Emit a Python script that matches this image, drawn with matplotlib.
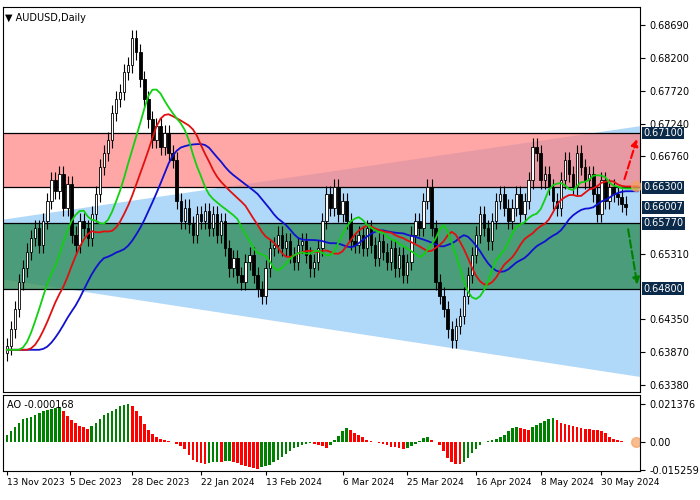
import numpy as np
import pandas as pd
import matplotlib
matplotlib.use("Agg")
import matplotlib.pyplot as plt
from matplotlib.patches import Polygon

closes = [0.6395,0.6420,0.6450,0.6490,0.6510,0.6535,
          0.6555,0.6570,0.6545,0.6580,0.6610,0.6640,
          0.6625,0.6650,0.6600,0.6635,0.6560,0.6545,
          0.6580,0.6570,0.6555,0.6590,0.6620,0.6660,
          0.6680,0.6700,0.6740,0.6760,0.6770,0.6800,
          0.6810,0.6850,0.6830,0.6790,0.6760,0.6730,
          0.6700,0.6720,0.6690,0.6710,0.6680,0.6670,
          0.6610,0.6580,0.6600,0.6575,0.6560,0.6590,
          0.6580,0.6595,0.6570,0.6590,0.6560,0.6580,
          0.6540,0.6510,0.6525,0.6500,0.6490,0.6520,
          0.6530,0.6500,0.6480,0.6470,0.6510,0.6540,
          0.6545,0.6560,0.6540,0.6550,0.6530,0.6520,
          0.6545,0.6550,0.6530,0.6510,0.6520,0.6540,
          0.6580,0.6620,0.6600,0.6630,0.6590,0.6610,
          0.6580,0.6550,0.6545,0.6560,0.6540,0.6570,
          0.6545,0.6525,0.6550,0.6535,0.6520,0.6540,
          0.6510,0.6530,0.6500,0.6520,0.6560,0.6580,
          0.6570,0.6610,0.6630,0.6570,0.6490,0.6470,
          0.6450,0.6420,0.6405,0.6425,0.6440,0.6470,
          0.6500,0.6530,0.6560,0.6590,0.6570,0.6550,
          0.6580,0.6610,0.6620,0.6600,0.6580,0.6600,
          0.6620,0.6590,0.6610,0.6640,0.6690,0.6680,
          0.6640,0.6650,0.6630,0.6610,0.6600,0.6640,
          0.6670,0.6650,0.6630,0.6680,0.6660,0.6640,
          0.6650,0.6620,0.6590,0.6640,0.6610,0.6630,
          0.6620,0.6615,0.6605,0.6601]
first_open = 0.6385

# AO histogram, read in units of 1.527e-4
ao_pts = [20,17,
          28,40,55,72,85,88,92,98,105,112,118,122,126,128,
          112,95,82,70,60,54,50,
          58,72,85,98,108,115,122,130,136,140,
          130,115,95,65,45,30,20,14,10,5,0,
          -5,-12,-25,-45,-62,-72,-76,-78,
          -75,-72,-70,-70,-69,-68,
          -70,-74,-80,-86,-90,-94,-97,
          -90,-85,-80,-72,-62,-52,-42,-32,-22,-15,-10,-5,-3,
          -6,-10,-14,-22,
          -10,8,25,42,52,
          45,35,28,20,10,5,
          2,-2,-5,-10,-15,-18,-22,-25,
          -20,-12,-5,5,15,18,
          10,0,
          -10,-30,-55,-70,-78,-78,
          -70,-55,-40,-25,-10,0,5,
          8,12,18,28,40,52,55,
          52,50,45,
          55,62,70,78,85,90,
          80,72,66,62,58,55,52,50,48,46,44,40,35,20,12,8,4,2]

date_pos = [0, 15.5, 31, 48, 64, 83, 99, 116, 132, 147]
date_labels = ["13 Nov 2023", "5 Dec 2023", "28 Dec 2023", "22 Jan 2024", "13 Feb 2024",
               "6 Mar 2024", "25 Mar 2024", "16 Apr 2024", "8 May 2024", "30 May 2024"]
price_ticks = [0.68690, 0.68200, 0.67720, 0.67240, 0.66760, 0.65310, 0.64350, 0.63870, 0.63380]
levels = [0.67100, 0.66300, 0.65770, 0.64800]
last_price = 0.66007

c = np.array(closes)
o = np.r_[first_open, c[:-1]]
wick = 0.0012
h = np.maximum(o, c) + wick
l = np.minimum(o, c) - wick
n = len(c)
x = np.arange(n)

med = pd.Series((h + l) / 2)
def smma(p, s):
    return med.ewm(alpha=1 / p, adjust=False).mean().shift(s).bfill()
jaw, teeth, lips = smma(13, 8), smma(8, 5), smma(5, 3)

fig = plt.figure(figsize=(7, 5), dpi=100)
ax = fig.add_axes([0.004, 0.216, 0.910, 0.770])
ax2 = fig.add_axes([0.004, 0.058, 0.910, 0.152])
xmin, xmax = -1, 156.5

# zones
chan = Polygon([[xmin, 0.6582], [xmax, 0.6720], [xmax, 0.6350], [xmin, 0.6494]],
               closed=True, facecolor="#b0d8f8", lw=0, zorder=0)
ax.add_patch(chan)
ax.axhspan(levels[1], levels[0], color="#ff8080", alpha=0.7, lw=0, zorder=1)
ax.axhspan(levels[3], levels[2], color="#2e8b57", alpha=0.78, lw=0, zorder=2)
for lv in levels:
    ax.axhline(lv, color="black", lw=0.9, zorder=3)

# candles
for i in x:
    ax.vlines(i, l[i], h[i], color="black", lw=0.8, zorder=4)
    fc = "white" if c[i] >= o[i] else "black"
    ax.bar(i, max(abs(c[i] - o[i]), 0.00015), bottom=min(o[i], c[i]), width=0.6,
           facecolor=fc, edgecolor="black", lw=0.6, zorder=5)

xe = np.arange(n + 3)
def ext(s):
    return np.r_[s.values, np.full(3, s.values[-1])]
ax.plot(xe, ext(jaw), color="#1010d0", lw=1.3, zorder=6)
ax.plot(xe, ext(teeth), color="#e01010", lw=1.3, zorder=6)
ax.plot(xe, ext(lips), color="#10d010", lw=1.3, zorder=6)
ax.plot(n + 1.5, teeth.values[-1], "o", color="#f5a060", ms=7, alpha=0.7, zorder=7)

ax.annotate("", xy=(156, 0.6705), xytext=(152.5, 0.6638),
            arrowprops=dict(arrowstyle="-|>", ls="--", color="red", lw=1.5), zorder=8)
ax.annotate("", xy=(156, 0.6482), xytext=(153.5, 0.6572),
            arrowprops=dict(arrowstyle="-|>", ls="--", color="green", lw=1.5), zorder=8)

ax.set_xlim(xmin, xmax)
ax.set_ylim(0.63277, 0.6896)
ax.set_xticks([])
ax.yaxis.tick_right()
ax.set_yticks(price_ticks)
ax.set_yticklabels([f"{t:.5f}" for t in price_ticks], fontsize=7)
for lv in levels + [last_price]:
    ax.text(1.005, lv, f"{lv:.5f}", transform=ax.get_yaxis_transform(), fontsize=7,
            color="white", va="center", ha="left",
            bbox=dict(boxstyle="square,pad=0.15", fc="#0b2a4a", ec="none"))
ax.text(0.004, 0.985, "\u25BC AUDUSD,Daily", transform=ax.transAxes, fontsize=7,
        va="top", ha="left")

# AO
ao = np.array(ao_pts) * 1.527e-4
xa = np.arange(n - len(ao), n)
cols = ["#008000" if i > 0 and ao[i] > ao[i - 1] else "#ff0000" for i in range(len(ao))]
cols[0] = "#ff0000"
ax2.bar(xa, ao, width=0.65, color=cols)
ax2.plot(n + 1.5, 0, "o", color="#f5a060", ms=7, alpha=0.7)
ax2.set_xlim(xmin, xmax)
ax2.set_ylim(-0.0158, 0.0262)
ax2.yaxis.tick_right()
ax2.set_yticks([0.021376, 0.0, -0.015259])
ax2.set_yticklabels(["0.021376", "0.00", "-0.015259"], fontsize=7)
ax2.set_xticks(date_pos)
ax2.set_xticklabels(date_labels, fontsize=6.5, ha="left")
ax2.tick_params(axis="x", length=3, pad=2)
ax2.text(0.006, 0.93, "AO -0.000168", transform=ax2.transAxes, fontsize=7, va="top")

fig.savefig("out.png", dpi=100)
